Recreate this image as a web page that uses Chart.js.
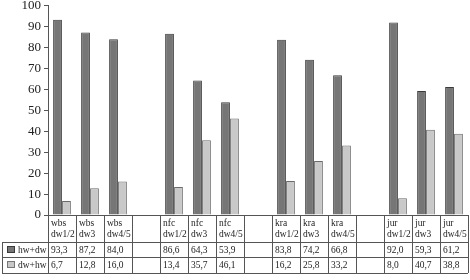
<!DOCTYPE html>
<html>
<head>
<meta charset="utf-8">
<script src="https://cdn.jsdelivr.net/npm/chart.js@4"></script>
<style>
  html, body { margin: 0; padding: 0; background: #fff; }
  #wrap { width: 470px; height: 280px; overflow: hidden; position: relative; }
  #chart { position: absolute; left: 0; top: -5px; }
</style>
</head>
<body>
<div id="wrap"><canvas id="chart" width="470" height="285"></canvas></div>
<script>
const GROUPS = ["wbs", "nfc", "kra", "jur"];
const LEVELS = ["dw1/2", "dw3", "dw4/5"];
const HW_DW = [93.3, 87.2, 84.0, 86.6, 64.3, 53.9, 83.8, 74.2, 66.8, 92.0, 59.3, 61.2];
const DW_HW = [6.7, 12.8, 16.0, 13.4, 35.7, 46.1, 16.2, 25.8, 33.2, 8.0, 40.7, 38.8];
const Y_TICKS = [0, 10, 20, 30, 40, 50, 60, 70, 80, 90, 100];

const FONT = "'Liberation Serif', serif";
const DARK = "#767676";
const LIGHT = "#c8c8c8";

// 15 columns: three per group plus an empty column between groups
const labels = [];
const hwCol = [];
const dwCol = [];
GROUPS.forEach((g, gi) => {
  if (gi > 0) {
    labels.push(null);
    hwCol.push(null);
    dwCol.push(null);
  }
  LEVELS.forEach((lv, li) => {
    labels.push([g, lv]);
    hwCol.push(HW_DW[gi * 3 + li]);
    dwCol.push(DW_HW[gi * 3 + li]);
  });
});

const fmt = (v) => v.toFixed(1).replace(".", ",");

// slightly condensed text, like the book face of the original
function cellText(ctx, text, x, y) {
  ctx.save();
  ctx.translate(x, y);
  ctx.scale(0.86, 1);
  ctx.fillText(text, 0, 0);
  ctx.restore();
}

const tablePlugin = {
  id: "dataTable",
  afterDraw(chart) {
    const { ctx, chartArea } = chart;
    const x = chart.scales.x;
    const colW = (chartArea.right - chartArea.left) / labels.length;
    const top = Math.round(chartArea.bottom);
    const rows = [top, top + 27, top + 42, top + 58];
    ctx.save();
    ctx.strokeStyle = "#555";
    ctx.lineWidth = 1;

    // horizontal lines
    ctx.beginPath();
    ctx.moveTo(chartArea.left - 4, rows[0] + 0.5);
    ctx.lineTo(chartArea.right, rows[0] + 0.5);
    for (let r = 1; r < rows.length; r++) {
      ctx.moveTo(2, rows[r] + 0.5);
      ctx.lineTo(chartArea.right, rows[r] + 0.5);
    }
    // vertical lines
    ctx.moveTo(2.5, rows[1]);
    ctx.lineTo(2.5, rows[3]);
    for (let i = 0; i <= labels.length; i++) {
      const xx = Math.round(chartArea.left + i * colW) + 0.5;
      ctx.moveTo(xx, rows[0]);
      ctx.lineTo(xx, rows[3]);
    }
    ctx.stroke();

    ctx.fillStyle = "#222";
    ctx.font = "11px " + FONT;
    ctx.textAlign = "left";
    ctx.textBaseline = "middle";
    labels.forEach((lab, i) => {
      if (!lab) return;
      const left = x.getPixelForValue(i) - colW / 2 + 3;
      cellText(ctx, lab[0], left, rows[0] + 8);
      cellText(ctx, lab[1], left, rows[0] + 19);
      cellText(ctx, fmt(hwCol[i]), left, rows[1] + 8);
      cellText(ctx, fmt(dwCol[i]), left, rows[2] + 8);
    });

    // legend cells
    const series = [["hw+dw", DARK, "#3a3a3a"], ["dw+hw", LIGHT, "#777"]];
    series.forEach((s, k) => {
      const ry = rows[k + 1];
      ctx.fillStyle = s[1];
      ctx.fillRect(7, ry + 4, 8, 7);
      ctx.strokeStyle = s[2];
      ctx.strokeRect(7.5, ry + 4.5, 7, 6);
      ctx.fillStyle = "#222";
      cellText(ctx, s[0], 18, ry + 8);
    });
    ctx.restore();
  }
};

new Chart(document.getElementById("chart"), {
  type: "bar",
  data: {
    labels: labels.map((l) => (l ? l.join(" ") : "")),
    datasets: [
      {
        label: "hw+dw",
        data: hwCol,
        backgroundColor: DARK,
        borderColor: "#3a3a3a",
        borderWidth: 1,
        categoryPercentage: 0.64,
        barPercentage: 0.98
      },
      {
        label: "dw+hw",
        data: dwCol,
        backgroundColor: LIGHT,
        borderColor: "#6a6a6a",
        borderWidth: 1,
        categoryPercentage: 0.64,
        barPercentage: 0.98
      }
    ]
  },
  options: {
    responsive: false,
    animation: false,
    layout: { padding: { top: 0, right: 2, bottom: 65, left: 0 } },
    plugins: {
      legend: { display: false },
      tooltip: { enabled: false }
    },
    scales: {
      x: {
        display: false,
        grid: { display: false }
      },
      y: {
        min: 0,
        max: 100,
        afterFit(scale) { scale.width = 48; },
        afterBuildTicks(scale) { scale.ticks = Y_TICKS.map((v) => ({ value: v })); },
        grid: { drawOnChartArea: false, tickLength: 4, color: "#555" },
        border: { color: "#555" },
        ticks: {
          color: "#222",
          padding: 3,
          font: { family: FONT, size: 13 }
        }
      }
    }
  },
  plugins: [tablePlugin]
});
</script>
</body>
</html>
